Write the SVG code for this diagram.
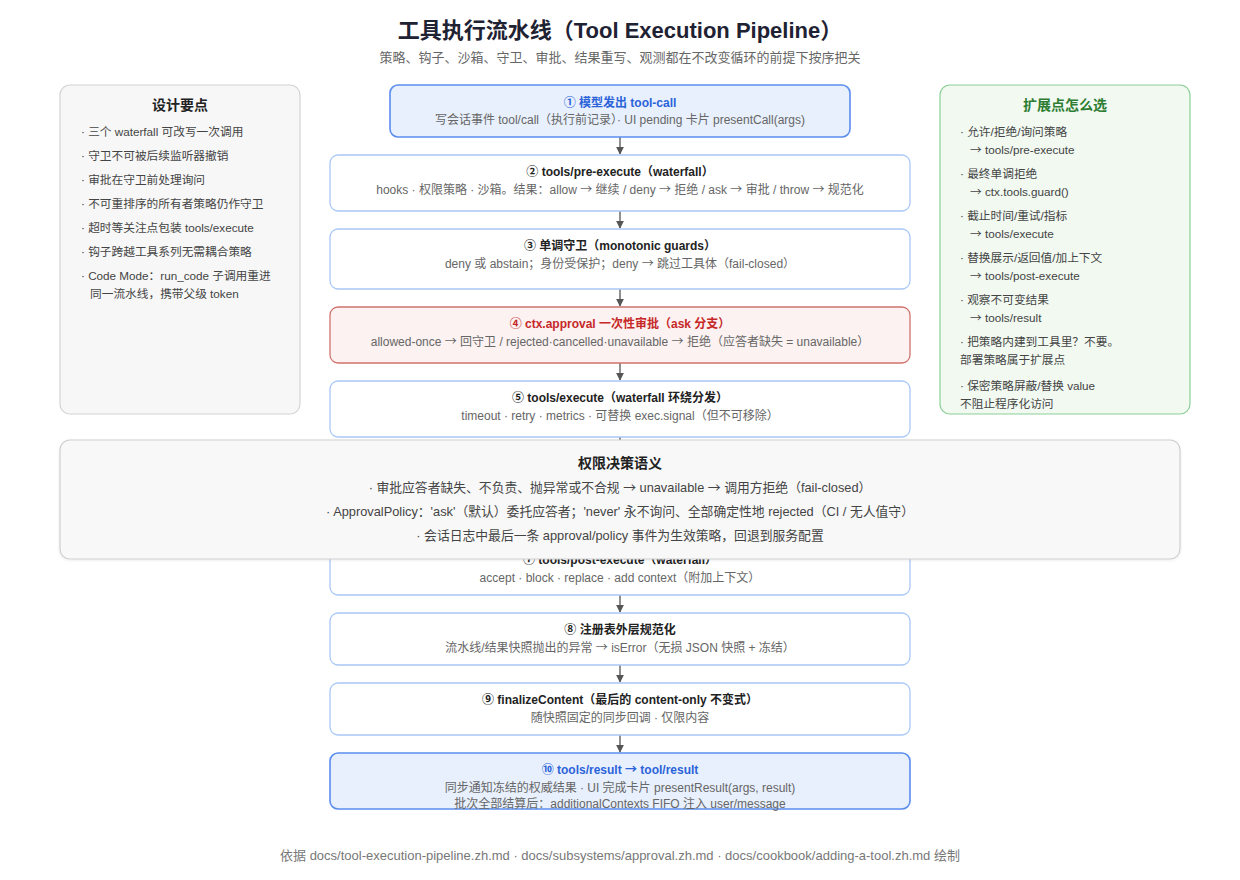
<svg xmlns="http://www.w3.org/2000/svg" width="1240" height="880" viewBox="0 0 1240 880">
<defs>
<marker id="ah" viewBox="0 0 10 10" refX="9" refY="5" markerWidth="8" markerHeight="8" markerUnits="userSpaceOnUse" orient="auto">
<path d="M0,0 L10,5 L0,10 z" fill="#555"/>
</marker>
<filter id="sh" x="-5%" y="-10%" width="110%" height="130%">
<feDropShadow dx="0" dy="1" stdDeviation="1.5" flood-color="#000" flood-opacity="0.08"/>
</filter>
</defs>
<style>
text{font-family:"Liberation Sans","Noto Sans CJK SC",sans-serif;}
.ar{font-family:"Noto Sans CJK SC",sans-serif;}
.title{font-size:22px;font-weight:700;fill:#1e2233;text-anchor:middle;}
.subtitle{font-size:13px;fill:#666;text-anchor:middle;}
.step{fill:#fff;stroke:#a9c8f7;stroke-width:1.3;}
.hl{fill:#e8f0fd;stroke:#5b8def;stroke-width:1.6;}
.red{fill:#fcf2f1;stroke:#d0736c;stroke-width:1.3;}
.st{font-size:12px;font-weight:700;fill:#222;text-anchor:middle;}
.sb{font-size:12px;fill:#666;text-anchor:middle;}
.blue{fill:#2b63d9;}
.redt{fill:#c62828;}
.side{fill:#f7f7f7;stroke:#d4d4d4;stroke-width:1.2;}
.green{fill:#f1f9f1;stroke:#8ccf97;stroke-width:1.2;}
.ht{font-size:14px;font-weight:700;fill:#222;text-anchor:middle;}
.hg{font-size:14px;font-weight:700;fill:#2e7d32;text-anchor:middle;}
.li{font-size:11.7px;fill:#444;}
.ov{fill:#f8f8f8;stroke:#cfcfcf;stroke-width:1.2;}
.oi{font-size:12.8px;fill:#444;text-anchor:middle;}
.conn{stroke:#555;stroke-width:1.3;fill:none;}
.foot{font-size:13px;fill:#777;text-anchor:middle;}
</style>
<rect width="1240" height="880" fill="#ffffff"/>
<text class="title" x="620" y="38">工具执行流水线（Tool Execution Pipeline）</text>
<text class="subtitle" x="620" y="62">策略、钩子、沙箱、守卫、审批、结果重写、观测都在不改变循环的前提下按序把关</text>

<g id="connectors">
<line class="conn" x1="620" y1="137" x2="620" y2="154" marker-end="url(#ah)"/>
<line class="conn" x1="620" y1="211" x2="620" y2="228" marker-end="url(#ah)"/>
<line class="conn" x1="620" y1="289" x2="620" y2="306" marker-end="url(#ah)"/>
<line class="conn" x1="620" y1="363" x2="620" y2="380" marker-end="url(#ah)"/>
<line class="conn" x1="620" y1="437" x2="620" y2="454" marker-end="url(#ah)"/>
<line class="conn" x1="620" y1="595" x2="620" y2="612" marker-end="url(#ah)"/>
<line class="conn" x1="620" y1="665" x2="620" y2="682" marker-end="url(#ah)"/>
<line class="conn" x1="620" y1="735" x2="620" y2="752" marker-end="url(#ah)"/>
</g>

<g id="design-notes">
<rect class="side" x="60" y="85" width="240" height="329" rx="10"/>
<text class="ht" x="180" y="110">设计要点</text>
<text class="li" x="81" y="136">· 三个 waterfall 可改写一次调用</text>
<text class="li" x="81" y="160">· 守卫不可被后续监听器撤销</text>
<text class="li" x="81" y="184">· 审批在守卫前处理询问</text>
<text class="li" x="81" y="208">· 不可重排序的所有者策略仍作守卫</text>
<text class="li" x="81" y="232">· 超时等关注点包装 tools/execute</text>
<text class="li" x="81" y="256">· 钩子跨越工具系列无需耦合策略</text>
<text class="li" x="81" y="280">· Code Mode：run_code 子调用重进</text>
<text class="li" x="90" y="298">同一流水线，携带父级 token</text>
</g>

<g id="extension-points">
<rect class="green" x="940" y="85" width="250" height="329" rx="10"/>
<text class="hg" x="1065" y="110">扩展点怎么选</text>
<text class="li" x="960" y="136">· 允许/拒绝/询问策略</text>
<text class="li" x="970" y="154"><tspan class="ar">→</tspan> tools/pre-execute</text>
<text class="li" x="960" y="178">· 最终单调拒绝</text>
<text class="li" x="970" y="196"><tspan class="ar">→</tspan> ctx.tools.guard()</text>
<text class="li" x="960" y="220">· 截止时间/重试/指标</text>
<text class="li" x="970" y="238"><tspan class="ar">→</tspan> tools/execute</text>
<text class="li" x="960" y="262">· 替换展示/返回值/加上下文</text>
<text class="li" x="970" y="280"><tspan class="ar">→</tspan> tools/post-execute</text>
<text class="li" x="960" y="304">· 观察不可变结果</text>
<text class="li" x="970" y="322"><tspan class="ar">→</tspan> tools/result</text>
<text class="li" x="960" y="346">· 把策略内建到工具里？不要。</text>
<text class="li" x="960" y="364">部署策略属于扩展点</text>
<text class="li" x="960" y="390">· 保密策略屏蔽/替换 value</text>
<text class="li" x="960" y="408">不阻止程序化访问</text>
</g>

<g id="step1">
<rect class="hl" x="390" y="85" width="460" height="52" rx="8"/>
<text class="st blue" x="620" y="107">① 模型发出 tool-call</text>
<text class="sb" x="620" y="124">写会话事件 tool/call（执行前记录）· UI pending 卡片 presentCall(args)</text>
</g>

<g id="step2">
<rect class="step" x="330" y="155" width="580" height="56" rx="8"/>
<text class="st" x="620" y="176">② tools/pre-execute（waterfall）</text>
<text class="sb" x="620" y="194">hooks · 权限策略 · 沙箱。结果：allow <tspan class="ar">→</tspan> 继续 / deny <tspan class="ar">→</tspan> 拒绝 / ask <tspan class="ar">→</tspan> 审批 / throw <tspan class="ar">→</tspan> 规范化</text>
</g>

<g id="step3">
<rect class="step" x="330" y="229" width="580" height="60" rx="8"/>
<text class="st" x="620" y="250">③ 单调守卫（monotonic guards）</text>
<text class="sb" x="620" y="268">deny 或 abstain；身份受保护；deny <tspan class="ar">→</tspan> 跳过工具体（fail-closed）</text>
</g>

<g id="step4">
<rect class="red" x="330" y="307" width="580" height="56" rx="8"/>
<text class="st redt" x="620" y="328">④ ctx.approval 一次性审批（ask 分支）</text>
<text class="sb" x="620" y="346">allowed-once <tspan class="ar">→</tspan> 回守卫 / rejected·cancelled·unavailable <tspan class="ar">→</tspan> 拒绝（应答者缺失 = unavailable）</text>
</g>

<g id="step5">
<rect class="step" x="330" y="381" width="580" height="56" rx="8"/>
<text class="st" x="620" y="402">⑤ tools/execute（waterfall 环绕分发）</text>
<text class="sb" x="620" y="420">timeout · retry · metrics · 可替换 exec.signal（但不可移除）</text>
</g>

<g id="step7">
<rect class="step" x="330" y="539" width="580" height="56" rx="8"/>
<text class="st" x="620" y="564">⑦ tools/post-execute（waterfall）</text>
<text class="sb" x="620" y="582">accept · block · replace · add context（附加上下文）</text>
</g>

<g id="permission-semantics">
<rect class="ov" x="60" y="440" width="1120" height="119" rx="10" filter="url(#sh)"/>
<text class="ht" x="620" y="468">权限决策语义</text>
<text class="oi" x="620" y="492">· 审批应答者缺失、不负责、抛异常或不合规 <tspan class="ar">→</tspan> unavailable <tspan class="ar">→</tspan> 调用方拒绝（fail-closed）</text>
<text class="oi" x="620" y="516">· ApprovalPolicy：'ask'（默认）委托应答者；'never' 永不询问、全部确定性地 rejected（CI / 无人值守）</text>
<text class="oi" x="620" y="540">· 会话日志中最后一条 approval/policy 事件为生效策略，回退到服务配置</text>
</g>

<g id="step8">
<rect class="step" x="330" y="613" width="580" height="52" rx="8"/>
<text class="st" x="620" y="634">⑧ 注册表外层规范化</text>
<text class="sb" x="620" y="652">流水线/结果快照抛出的异常 <tspan class="ar">→</tspan> isError（无损 JSON 快照 + 冻结）</text>
</g>

<g id="step9">
<rect class="step" x="330" y="683" width="580" height="52" rx="8"/>
<text class="st" x="620" y="704">⑨ finalizeContent（最后的 content-only 不变式）</text>
<text class="sb" x="620" y="722">随快照固定的同步回调 · 仅限内容</text>
</g>

<g id="step10">
<rect class="hl" x="330" y="753" width="580" height="56" rx="8"/>
<text class="st blue" x="620" y="774">⑩ tools/result <tspan class="ar">→</tspan> tool/result</text>
<text class="sb" x="620" y="792">同步通知冻结的权威结果 · UI 完成卡片 presentResult(args, result)</text>
<text class="sb" x="620" y="808">批次全部结算后：additionalContexts FIFO 注入 user/message</text>
</g>

<text class="foot" x="620" y="860">依据 docs/tool-execution-pipeline.zh.md · docs/subsystems/approval.zh.md · docs/cookbook/adding-a-tool.zh.md 绘制</text>
</svg>
